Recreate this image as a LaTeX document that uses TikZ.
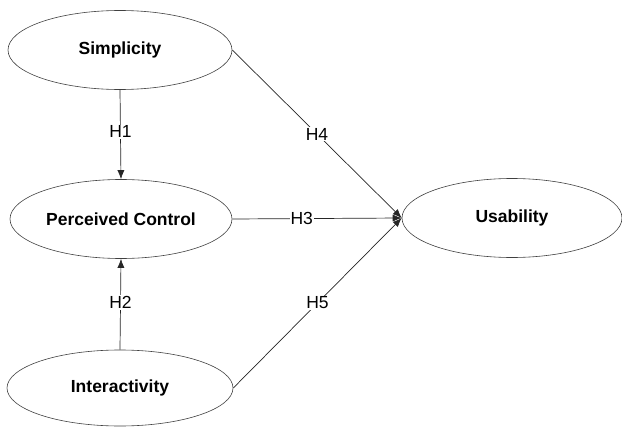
\documentclass[tikz,border=0pt]{standalone}
\usepackage{fontspec}
\setmainfont{Liberation Sans}
\usetikzlibrary{shapes.geometric,arrows.meta}
\begin{document}
\begin{tikzpicture}[x=1pt,y=-1pt,
  construct/.style={ellipse,draw=black!75,line width=0.6pt,minimum width=224pt,minimum height=79pt,inner sep=0pt,font=\fontsize{17.5}{19}\selectfont\bfseries},
  path/.style={draw=black!85,line width=0.7pt,-{Latex[length=9pt,width=7pt]}},
  hyp/.style={fill=white,inner sep=1pt,font=\fontsize{17.5}{19}\selectfont}]
\useasboundingbox (0,0) rectangle (622,428);
\node[construct] (S) at (120,50) {Simplicity};
\node[construct,minimum width=222pt] (P) at (121,219) {Perceived Control};
\node[construct,minimum width=226pt,minimum height=76pt] (I) at (120,388) {Interactivity};
\node[construct,minimum width=220pt] (U) at (512,218) {Usability};
\draw[path] (S.south) -- node[hyp,pos=0.47] {H1} (P.north);
\draw[path] (I.north) -- node[hyp,pos=0.52] {H2} (P.south);
\draw[path] (P.east) -- node[hyp,pos=0.41] {H3} (U.west);
\draw[path] (S.east) -- node[hyp,pos=0.5] {H4} (U.west);
\draw[path] (I.east) -- node[hyp,pos=0.5] {H5} (U.west);
\end{tikzpicture}
\end{document}
